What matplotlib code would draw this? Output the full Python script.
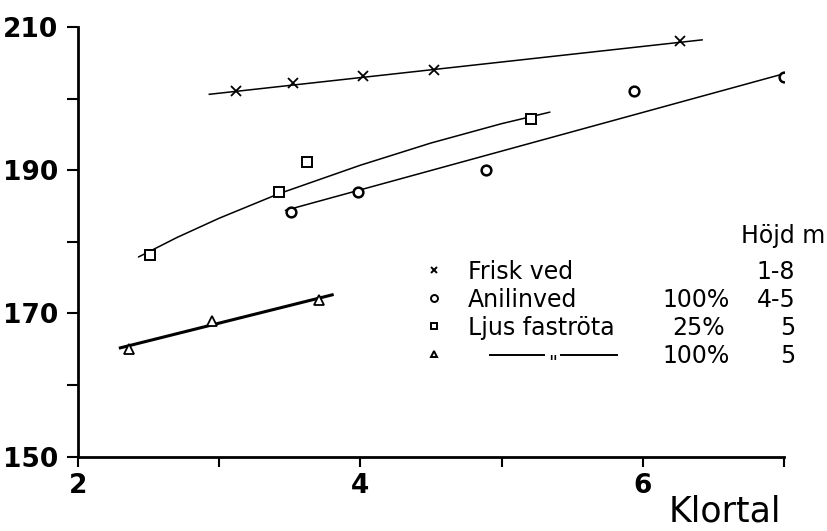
import matplotlib
matplotlib.use("Agg")
import matplotlib.pyplot as plt
import numpy as np

# Frisk ved (x)
frisk_x = [3.12, 3.52, 4.02, 4.52, 6.26]
frisk_y = [201.1, 202.2, 203.1, 204.0, 208.0]
frisk_line_x = [2.93, 6.42]
frisk_line_y = [200.6, 208.2]

# Anilinved 100% (o)
anilin_x = [3.51, 3.98, 4.89, 5.94, 7.0]
anilin_y = [184.2, 186.9, 190.1, 201.0, 203.0]
anilin_line_x = [3.47, 7.06]
anilin_line_y = [184.4, 203.8]

# Ljus faströta 25% (squares)
ljus25_x = [2.51, 3.42, 3.62, 5.21]
ljus25_y = [178.1, 187.0, 191.1, 197.1]
ljus25_curve_x = [2.43, 2.7, 3.0, 3.42, 4.0, 4.5, 5.0, 5.34]
ljus25_curve_y = [177.9, 180.6, 183.3, 186.7, 190.7, 193.8, 196.5, 198.1]

# Ljus faströta 100% (triangles)
ljus100_x = [2.36, 2.95, 3.71]
ljus100_y = [165.0, 169.0, 171.9]
ljus100_line_x = [2.30, 3.80]
ljus100_line_y = [165.2, 172.6]

yticks = [150, 160, 170, 180, 190, 200, 210]
ylabels = ["150", "", "170", "", "190", "", "210"]
xticks = [2, 3, 4, 5, 6, 7]
xlabels = ["2", "", "4", "", "6", ""]

legend_names = ["Frisk ved", "Anilinved", "Ljus fastr\u00f6ta", ""]
legend_pct = ["", "100%", "25%", "100%"]
legend_height = ["1-8", "4-5", "5", "5"]
legend_markers = ["x", "o", "s", "^"]

txt = dict(family=["DejaVu Sans"], weight="normal", color="black")

fig = plt.figure(figsize=(8.28, 5.31), dpi=100)
ax = fig.add_axes([0.0942, 0.1399, 0.8527, 0.8093])

ax.plot(frisk_line_x, frisk_line_y, color="black", lw=1.1)
ax.plot(frisk_x, frisk_y, "x", color="black", ms=7, mew=1.3)

ax.plot(anilin_line_x, anilin_line_y, color="black", lw=1.1)
ax.plot(anilin_x, anilin_y, "o", mfc="white", mec="black", ms=7, mew=1.8)

ax.plot(ljus25_curve_x, ljus25_curve_y, color="black", lw=1.1)
ax.plot(ljus25_x, ljus25_y, "s", mfc="white", mec="black", ms=7, mew=1.4)

ax.plot(ljus100_line_x, ljus100_line_y, color="black", lw=2.2)
ax.plot(ljus100_x, ljus100_y, "^", mfc="white", mec="black", ms=7, mew=1.3)

ax.set_xlim(2, 7)
ax.set_ylim(150, 210)
ax.set_yticks(yticks)
ax.set_yticklabels(ylabels)
ax.set_xticks(xticks)
ax.set_xticklabels(xlabels)
ax.tick_params(axis="y", direction="out", length=8, width=1.5, pad=6)
ax.tick_params(axis="x", direction="out", length=7, width=1.5, pad=5)
for lab in ax.get_xticklabels() + ax.get_yticklabels():
    lab.set_fontsize(19)
    lab.set_fontweight("bold")
    lab.set_fontfamily("DejaVu Sans")
for side in ["top", "right"]:
    ax.spines[side].set_visible(False)
for side in ["left", "bottom"]:
    ax.spines[side].set_linewidth(2)

ax.text(6.98, 140.9, "Klortal", ha="right", va="baseline", fontsize=25, clip_on=False, **txt)

# legend block
ax.text(7.29, 179.85, "H\u00f6jd m", ha="right", va="baseline", fontsize=17, clip_on=False, **txt)
rows_y = [174.8, 170.9, 167.0, 163.1]
for i, y in enumerate(rows_y):
    ax.plot([4.52], [y + 1.2], legend_markers[i], mfc="white", mec="black",
            ms=5, mew=1.4, color="black", clip_on=False)
    ax.text(4.76, y, legend_names[i], ha="left", va="baseline", fontsize=17, **txt)
    ax.text(7.08, y, legend_height[i], ha="right", va="baseline", fontsize=17, clip_on=False, **txt)
ax.text(6.14, rows_y[1], legend_pct[1], ha="left", va="baseline", fontsize=17, **txt)
ax.text(6.21, rows_y[2], legend_pct[2], ha="left", va="baseline", fontsize=17, **txt)
ax.text(6.14, rows_y[3], legend_pct[3], ha="left", va="baseline", fontsize=17, **txt)
ax.plot([4.92, 5.30], [164.2, 164.2], color="black", lw=1.4)
ax.plot([5.42, 5.82], [164.2, 164.2], color="black", lw=1.4)
ax.text(5.36, 162.3, '"', ha="center", va="baseline", fontsize=14, **txt)

fig.savefig("out.png", dpi=100)
